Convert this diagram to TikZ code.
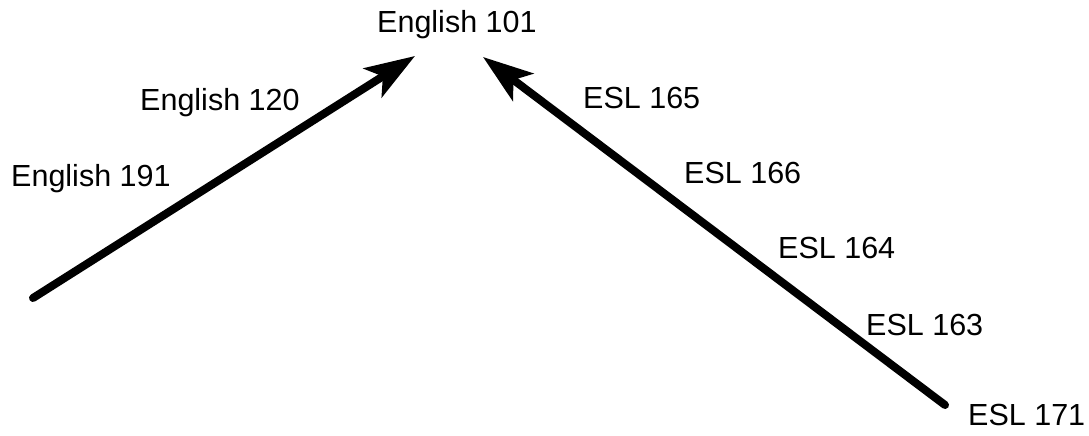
\documentclass[tikz,border=0pt]{standalone}
\usepackage{fontspec}
\setmainfont{Liberation Sans}
\usetikzlibrary{arrows.meta}
\begin{document}
\begin{tikzpicture}[x=1pt,y=-1pt,
  lbl/.style={anchor=base west,inner sep=0pt,font=\fontsize{30.5}{32}\selectfont},
  bigarrow/.style={line width=8pt,line cap=round,-{Stealth[length=50pt 0,width=34pt 0,inset=12pt]}}]
\useasboundingbox (0,0) rectangle (1089,436);
\node[lbl] (e101) at (377,33) {English 101};
\node[lbl] (e120) at (140,110) {English 120};
\node[lbl] (e191) at (11,186) {English 191};
\node[lbl] (s165) at (583,108) {ESL 165};
\node[lbl] (s166) at (684,183) {ESL 166};
\node[lbl] (s164) at (778,258) {ESL 164};
\node[lbl] (s163) at (866,335) {ESL 163};
\node[lbl] (s171) at (968,425) {ESL 171};
\coordinate (lstart) at (33,298);
\coordinate (ltip) at (415,56);
\coordinate (rstart) at (945,405);
\coordinate (rtip) at (483,57);
\draw[bigarrow] (lstart) -- (ltip);
\draw[bigarrow] (rstart) -- (rtip);
\end{tikzpicture}
\end{document}
